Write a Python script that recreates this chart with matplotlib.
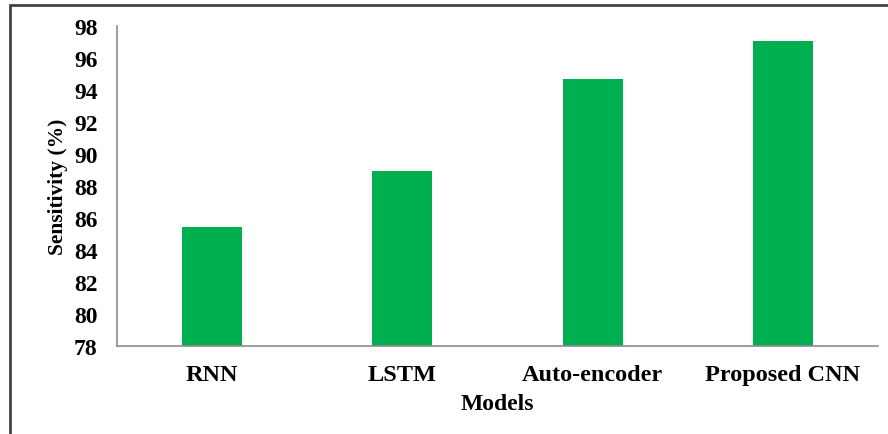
import numpy as np
from matplotlib import pyplot as plt
from matplotlib.patches import Rectangle

models = ['RNN', 'LSTM', 'Auto-encoder', 'Proposed CNN']
sensitivity = [85.45, 88.95, 94.7, 97.05]
y_ticks = [78, 80, 82, 84, 86, 88, 90, 92, 94, 96, 98]

plt.rcParams['font.family'] = 'Liberation Serif'
plt.rcParams['font.weight'] = 'bold'

fig = plt.figure(figsize=(8.88, 4.35), dpi=100)
ax = fig.add_axes([117 / 888, 1 - 347 / 435, 761 / 888, 320 / 435])

x = np.arange(len(models))
ax.bar(x, np.array(sensitivity) - 78, bottom=78, width=0.316, color='#00B050')

ax.set_xlim(-0.5, len(models) - 0.5)
ax.set_ylim(78, 98)
ax.set_yticks(y_ticks)
ax.set_xticks(x, labels=models)
ax.tick_params(axis='y', length=0, pad=14, labelsize=17)
ax.tick_params(axis='x', length=0, pad=13, labelsize=17.5)

for s in ['top', 'right']:
    ax.spines[s].set_visible(False)
for s in ['left', 'bottom']:
    ax.spines[s].set_color('#8c8c8c')
    ax.spines[s].set_linewidth(1.2)

ax.set_xlabel('Models', fontsize=17, fontweight='bold', labelpad=6)
ax.set_ylabel('Sensitivity (%)', fontsize=15.5, fontweight='bold', labelpad=4)

# outer frame, cut off at the right and bottom edges
fig.patches.append(Rectangle((9.5 / 888, -0.1), 1.2, 1 - 5.5 / 435 + 0.1,
                             transform=fig.transFigure, fill=False,
                             edgecolor='#444444', linewidth=2))

fig.savefig('out.png', dpi=100)
